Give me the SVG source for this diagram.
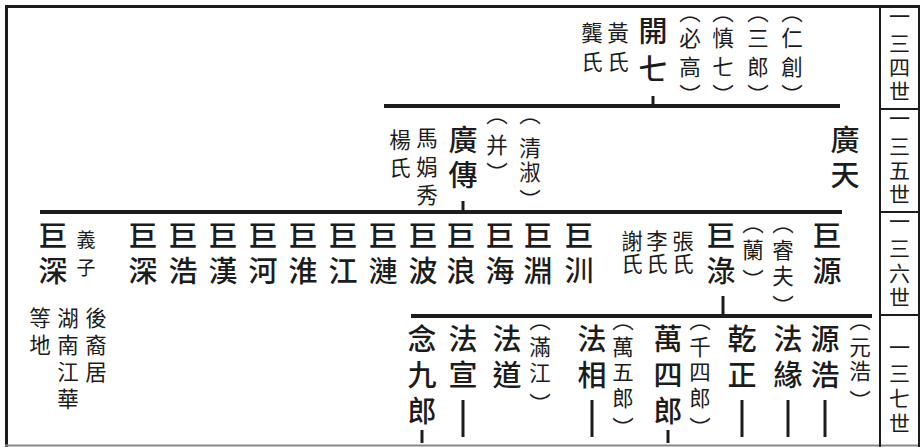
<svg xmlns="http://www.w3.org/2000/svg" width="920" height="447" viewBox="0 0 920 447">
<style>
.v{writing-mode:vertical-rl;text-anchor:middle;font-family:"Noto Sans CJK TC","Noto Sans CJK SC",sans-serif;fill:#1c1c1c}
.n{font-size:29px;font-weight:500}
.s{font-size:21.5px}
.t{font-size:19px}
.g{font-size:21px}
.ln{stroke:#1c1c1c;stroke-width:4;fill:none}
.tk{stroke:#1c1c1c;stroke-width:3;fill:none}
.fr{stroke:#1c1c1c;stroke-width:2;fill:none}
</style>
<rect width="920" height="447" fill="#fff"/>
<g id="frame">
<line x1="5" y1="6.5" x2="920" y2="6.5" stroke="#1c1c1c" stroke-width="3"/>
<line x1="6.5" y1="5" x2="6.5" y2="447" stroke="#1c1c1c" stroke-width="3"/>
<line x1="5" y1="445.5" x2="920" y2="445.5" stroke="#888" stroke-width="2"/>
<line x1="880" y1="6" x2="880" y2="447" class="fr"/>
<line x1="919" y1="6" x2="919" y2="447" class="fr"/>
<line x1="880" y1="109" x2="920" y2="109" class="fr"/>
<line x1="880" y1="212" x2="920" y2="212" class="fr"/>
<line x1="880" y1="315" x2="920" y2="315" class="fr"/>
</g>
<g id="generations">
<text class="v g" x="899.5" y="16 43 67 91">一三四世</text>
<text class="v g" x="899.5" y="118 146 170 194">一三五世</text>
<text class="v g" x="899.5" y="221 248 273 297">一三六世</text>
<text class="v g" x="899.5" y="347 373 398 423">一三七世</text>
</g>
<g id="connectors">
<line class="ln" x1="384" y1="106" x2="840" y2="106"/>
<line class="tk" x1="653" y1="96" x2="653" y2="106"/>
<line class="ln" x1="40" y1="212" x2="842" y2="212"/>
<line class="tk" x1="463" y1="201" x2="463" y2="212"/>
<line class="ln" x1="411" y1="316" x2="872" y2="316"/>
<line class="tk" x1="723" y1="296" x2="723" y2="316"/>
<line class="tk" x1="422" y1="430" x2="422" y2="443"/>
<line class="tk" x1="463" y1="400" x2="463" y2="437"/>
<line class="tk" x1="592" y1="400" x2="592" y2="437"/>
<line class="tk" x1="668" y1="430" x2="668" y2="443"/>
<line class="tk" x1="742" y1="400" x2="742" y2="437"/>
<line class="tk" x1="788" y1="400" x2="788" y2="437"/>
<line class="tk" x1="825" y1="400" x2="825" y2="437"/>
</g>
<g id="kaiqi">
<text class="v s" x="592" y="33 62">龔氏</text>
<text class="v s" x="618" y="33 62">黃氏</text>
<text class="v n" x="653" y="31 69">開七</text>
<text class="v s" x="690" y="12 38 67 95">（必高）</text>
<text class="v s" x="723" y="12 38 67 95">（慎七）</text>
<text class="v s" x="758" y="12 38 67 95">（三郎）</text>
<text class="v s" x="792" y="12 38 67 95">（仁創）</text>
</g>
<g id="guangchuan">
<text class="v s" x="400" y="140 168">楊氏</text>
<text class="v s" x="427" y="138 167 195">馬娟秀</text>
<text class="v n" x="463" y="140 175">廣傳</text>
<text class="v s" x="497" y="114 145 173">（并）</text>
<text class="v s" x="530" y="114 148 172 200">（清淑）</text>
</g>
<g id="guangtian"><text class="v n" x="845" y="140 175">廣天</text></g>
<g id="jushen-adopted">
<text class="v n" x="53" y="236 271">巨深</text>
<text class="v t" x="86" y="240 268">義子</text>
<text class="v s" x="96" y="318 345 372">後裔居</text>
<text class="v s" x="68" y="318 345 372 399">湖南江華</text>
<text class="v s" x="40" y="318 345">等地</text>
</g>
<g id="jushen"><text class="v n" x="143" y="236 271">巨深</text></g>
<g id="juhao"><text class="v n" x="183" y="236 271">巨浩</text></g>
<g id="juhan"><text class="v n" x="223" y="236 271">巨漢</text></g>
<g id="juhe"><text class="v n" x="263" y="236 271">巨河</text></g>
<g id="juhuai"><text class="v n" x="303" y="236 271">巨淮</text></g>
<g id="jujiang"><text class="v n" x="343" y="236 271">巨江</text></g>
<g id="julian"><text class="v n" x="383" y="236 271">巨漣</text></g>
<g id="jubo"><text class="v n" x="423" y="236 271">巨波</text></g>
<g id="julang"><text class="v n" x="461" y="236 271">巨浪</text></g>
<g id="juhai"><text class="v n" x="500" y="236 271">巨海</text></g>
<g id="juyuan2"><text class="v n" x="538" y="236 271">巨淵</text></g>
<g id="juchuan"><text class="v n" x="579" y="236 271">巨汌</text></g>
<g id="julu">
<text class="v s" x="632" y="241 264">謝氏</text>
<text class="v s" x="657" y="241 264">李氏</text>
<text class="v s" x="683" y="241 264">張氏</text>
<text class="v n" x="721" y="236 271">巨淥</text>
<text class="v s" x="753" y="223 250 280">（蘭）</text>
<text class="v s" x="783" y="223 250 276 306">（睿夫）</text>
</g>
<g id="juyuan"><text class="v n" x="827" y="236 271">巨源</text></g>
<g id="nianjiulang"><text class="v n" x="422" y="339 375 411">念九郎</text></g>
<g id="faxuan"><text class="v n" x="463" y="339 375">法宣</text></g>
<g id="fadao">
<text class="v n" x="507" y="339 375">法道</text>
<text class="v s" x="540" y="320 347 373 404">（滿江）</text>
</g>
<g id="faxiang">
<text class="v n" x="592" y="339 375">法相</text>
<text class="v s" x="623" y="320 347 372 398 428">（萬五郎）</text>
</g>
<g id="wansilang">
<text class="v n" x="668" y="339 375 411">萬四郎</text>
<text class="v s" x="700" y="320 347 372 398 428">（千四郎）</text>
</g>
<g id="qianzheng"><text class="v n" x="742" y="339 375">乾正</text></g>
<g id="fayuan"><text class="v n" x="788" y="339 375">法緣</text></g>
<g id="yuanhao">
<text class="v n" x="825" y="339 375">源浩</text>
<text class="v s" x="860" y="320 347 371 401">（元浩）</text>
</g>
</svg>
